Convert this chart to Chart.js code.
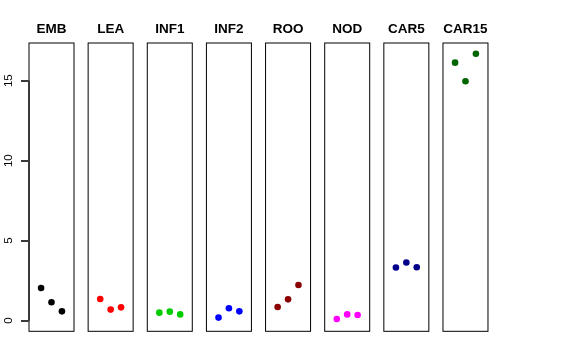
<!DOCTYPE html>
<html>
<head>
<meta charset="utf-8">
<script src="https://cdn.jsdelivr.net/npm/chart.js@4/dist/chart.umd.min.js"></script>
<style>
  html, body { margin: 0; padding: 0; background: #fff; }
  #wrap { position: relative; width: 576px; height: 360px; }
  #wrap canvas { position: absolute; left: 0; top: 0; }
</style>
</head>
<body>
<div id="wrap"></div>
<script>
// tissues, one panel each
const tissues = ['EMB', 'LEA', 'INF1', 'INF2', 'ROO', 'NOD', 'CAR5', 'CAR15'];
const colors = ['#000000', '#FF0000', '#00CD00', '#0000FF', '#8B0000', '#FF00FF', '#00008B', '#006400'];

// three replicates per tissue
const replicates = [1, 2, 3];
const embValues = [2.04, 1.15, 0.58];
const leaValues = [1.35, 0.69, 0.83];
const inf1Values = [0.50, 0.56, 0.39];
const inf2Values = [0.19, 0.77, 0.58];
const rooValues = [0.85, 1.33, 2.23];
const nodValues = [0.10, 0.39, 0.35];
const car5Values = [3.32, 3.63, 3.34];
const car15Values = [16.13, 14.97, 16.69];

const yTicks = [0, 5, 10, 15];

const allValues = [embValues, leaValues, inf1Values, inf2Values, rooValues, nodValues, car5Values, car15Values];

// R-style 4% axis extension
const yLo = 0;
const yHi = Math.max(...allValues.flat());
const yPad = 0.04 * (yHi - yLo);
const xLo = 0, xHi = 4;
const xPad = 0.04 * (xHi - xLo);

const W = 576, H = 360;
const panelW = 45;
const firstLeft = 29;
const step = 59.14;
const plotBottom = 331.3;

const FONT = '"Liberation Sans", Arial, Helvetica, sans-serif';

// box around each panel
const framePlugin = {
  id: 'frame',
  afterDraw(chart) {
    const { ctx, chartArea: a } = chart;
    ctx.save();
    ctx.strokeStyle = '#000';
    ctx.lineWidth = 1;
    ctx.strokeRect(a.left, a.top, a.right - a.left, a.bottom - a.top);
    ctx.restore();
  }
};

// y axis on the left of the first panel, R style
const yAxisPlugin = {
  id: 'rAxis',
  afterDraw(chart) {
    const { ctx, chartArea: a } = chart;
    const y = chart.scales.y;
    const ax = Math.round(a.left);
    ctx.save();
    ctx.fillStyle = '#3a3a3a';
    const y0 = y.getPixelForValue(yTicks[0]);
    const y1 = y.getPixelForValue(yTicks[yTicks.length - 1]);
    ctx.fillRect(ax - 1, y1, 2, y0 - y1);
    yTicks.forEach(v => {
      const py = Math.round(y.getPixelForValue(v));
      ctx.fillRect(ax - 8, py - 1, 8, 2);
    });
    ctx.fillStyle = '#000';
    ctx.font = '11.5px ' + FONT;
    ctx.textAlign = 'center';
    ctx.textBaseline = 'middle';
    yTicks.forEach(v => {
      ctx.save();
      ctx.translate(8.5, y.getPixelForValue(v));
      ctx.rotate(-Math.PI / 2);
      ctx.fillText(String(v), 0, 0);
      ctx.restore();
    });
    ctx.restore();
  }
};

const wrap = document.getElementById('wrap');

tissues.forEach((name, i) => {
  const canvas = document.createElement('canvas');
  canvas.width = W;
  canvas.height = H;
  canvas.style.width = W + 'px';
  canvas.style.height = H + 'px';
  wrap.appendChild(canvas);

  const left = firstLeft + i * step;
  const points = replicates.map((x, j) => ({ x: x, y: allValues[i][j] }));

  new Chart(canvas, {
    type: 'scatter',
    data: {
      datasets: [{
        data: points,
        backgroundColor: colors[i],
        borderColor: colors[i],
        borderWidth: 0,
        pointRadius: 3.3,
      }]
    },
    options: {
      responsive: false,
      animation: false,
      events: [],
      layout: {
        padding: { left: left, right: W - left - panelW, top: 0, bottom: H - plotBottom }
      },
      scales: {
        x: { type: 'linear', min: xLo - xPad, max: xHi + xPad, display: false },
        y: { type: 'linear', min: yLo - yPad, max: yHi + yPad, display: false }
      },
      plugins: {
        legend: { display: false },
        tooltip: { enabled: false },
        title: {
          display: true,
          text: name,
          color: '#000',
          font: { family: FONT, size: 13.5, weight: 'bold', lineHeight: 1.2 },
          padding: { top: 21.2, bottom: 5.6 }
        }
      }
    },
    plugins: i === 0 ? [framePlugin, yAxisPlugin] : [framePlugin]
  });
});
</script>
</body>
</html>
